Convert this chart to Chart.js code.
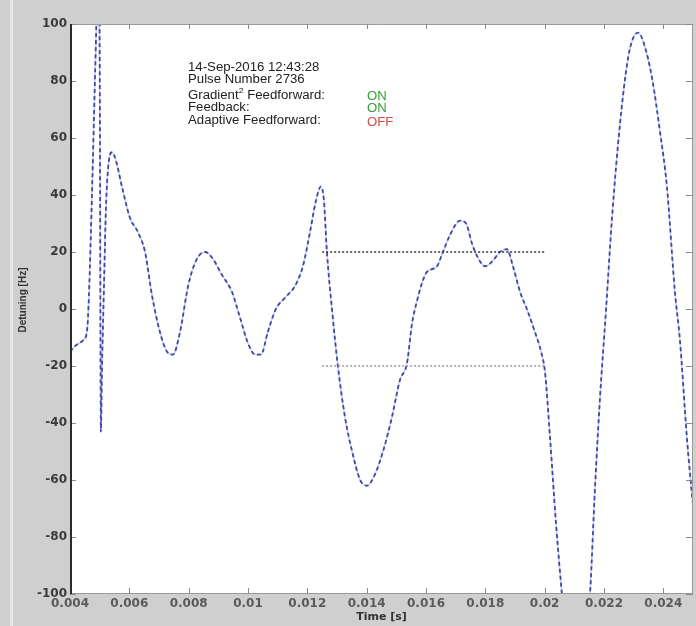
<!DOCTYPE html>
<html>
<head>
<meta charset="utf-8">
<script src="https://cdn.jsdelivr.net/npm/chart.js@4.4.1/dist/chart.umd.min.js"></script>
<style>
html,body{margin:0;padding:0;background:#cfcfcf;}
canvas{display:block;}
</style>
</head>
<body>
<canvas id="c" width="696" height="626"></canvas>
<script>
// ---- data ----
const times = [0.00400,0.00417,0.00444,0.00457,0.00464,0.00474,0.00484,0.00493,0.00498,0.00501,0.00503,0.00504,0.00508,0.00515,0.00521,0.00531,0.00542,0.00555,0.00575,0.00602,0.00629,0.00653,0.00676,0.00703,0.00727,0.00747,0.00771,0.00798,0.00825,0.00855,0.00879,0.00912,0.00946,0.00973,0.01000,0.01024,0.01044,0.01067,0.01094,0.01125,0.01158,0.01185,0.01209,0.01229,0.01246,0.01256,0.01266,0.01283,0.01303,0.01327,0.01351,0.01378,0.01401,0.01428,0.01455,0.01485,0.01512,0.01536,0.01553,0.01570,0.01586,0.01603,0.01637,0.01657,0.01681,0.01715,0.01735,0.01755,0.01775,0.01799,0.01826,0.01849,0.01873,0.01893,0.01917,0.01940,0.01967,0.01988,0.02001,0.02018,0.02038,0.02058,0.02079,0.02106,0.02133,0.02153,0.02170,0.02186,0.02207,0.02227,0.02254,0.02281,0.02298,0.02315,0.02335,0.02362,0.02389,0.02412,0.02439,0.02456,0.02480,0.02500];
const detuning = [-15,-13,-11,-8,5,40,80,115,125,60,-20,-43,-20,10,35,52,55,52,43,32,27,20,5,-8,-15,-16,-8,8,17,20,18,12,6,-3,-12,-16,-16,-8,0,4,8,15,27,38,43,38,20,0,-20,-38,-50,-60,-62,-58,-50,-38,-25,-19,-5,3,9,13,15,20,26,31,30,23,18,15,17,20,21,15,6,0,-8,-15,-22,-45,-75,-100,-125,-140,-125,-100,-62,-32,0,32,65,88,95,97,93,81,62,43,6,-11,-46,-69];
const refTimes = [0.0125, 0.0200];
const refUpper = [20, 20];
const refLower = [-20, -20];
const xTickValues = [0.004,0.006,0.008,0.010,0.012,0.014,0.016,0.018,0.020,0.022,0.024];
const xTickLabels = ['0.004','0.006','0.008','0.01','0.012','0.014','0.016','0.018','0.02','0.022','0.024'];
const yTickValues = [-100,-80,-60,-40,-20,0,20,40,60,80,100];
const yTickLabels = ['-100','-80','-60','-40','-20','0','20','40','60','80','100'];
const infoLines = ['14-Sep-2016 12:43:28','Pulse Number 2736'];
const statusNames = ['Feedback:','Adaptive Feedforward:'];
const statusValues = ['ON','ON','OFF'];
const statusColors = ['#35a035','#35a035','#d84a4a'];

const pts = (xs, ys) => xs.map((x, i) => ({x: x, y: ys[i]}));

const frame = {
  id: 'frame',
  beforeDraw(chart) {
    const {ctx, chartArea: a} = chart;
    ctx.save();
    ctx.fillStyle = '#cfcfcf';
    ctx.fillRect(0, 0, chart.width, chart.height);
    ctx.fillStyle = '#e6e6e6';
    ctx.fillRect(10, 0, 3, chart.height);
    ctx.fillStyle = '#ffffff';
    ctx.fillRect(a.left, a.top, a.right - a.left, a.bottom - a.top);
    ctx.restore();
  },
  afterDraw(chart) {
    const {ctx, chartArea: a, scales} = chart;
    const xs = scales.x, ys = scales.y;
    ctx.save();
    // box
    ctx.strokeStyle = '#9a9a9a';
    ctx.lineWidth = 1;
    ctx.beginPath();
    ctx.moveTo(a.left, a.top + 0.5); ctx.lineTo(a.right, a.top + 0.5);
    ctx.moveTo(a.right - 0.5, a.top); ctx.lineTo(a.right - 0.5, a.bottom);
    ctx.moveTo(a.left, a.bottom - 0.5); ctx.lineTo(a.right, a.bottom - 0.5);
    ctx.stroke();
    // inward ticks
    ctx.strokeStyle = '#888';
    ctx.beginPath();
    yTickValues.forEach(v => {
      const y = Math.round(ys.getPixelForValue(v)) + 0.5;
      ctx.moveTo(a.left, y); ctx.lineTo(a.left + 6, y);
      ctx.moveTo(a.right, y); ctx.lineTo(a.right - 7, y);
    });
    xTickValues.forEach(v => {
      const x = Math.round(xs.getPixelForValue(v)) + 0.5;
      ctx.moveTo(x, a.bottom); ctx.lineTo(x, a.bottom - 6);
      ctx.moveTo(x, a.top); ctx.lineTo(x, a.top + 5);
    });
    ctx.stroke();
    // left axis line
    ctx.strokeStyle = '#2a2a2a';
    ctx.lineWidth = 2;
    ctx.beginPath();
    ctx.moveTo(a.left + 1, a.top); ctx.lineTo(a.left + 1, a.bottom);
    ctx.stroke();
    // axis titles
    ctx.fillStyle = '#333';
    ctx.textAlign = 'center';
    ctx.textBaseline = 'middle';
    ctx.font = 'bold 10px "Liberation Sans", Arial, sans-serif';
    ctx.save();
    ctx.translate(23, 300);
    ctx.rotate(-Math.PI / 2);
    ctx.fillText('Detuning [Hz]', 0, 0);
    ctx.restore();
    ctx.font = 'bold 11px "DejaVu Sans", sans-serif';
    ctx.fillText('Time [s]', (a.left + a.right) / 2, 617);
    // info text (slightly wide lettering)
    ctx.save();
    ctx.translate(188, 0);
    ctx.scale(1.1, 1);
    ctx.textAlign = 'left';
    ctx.fillStyle = '#222';
    ctx.font = '12px "Liberation Sans", Arial, sans-serif';
    ctx.fillText(infoLines[0], 0, 68);
    ctx.fillText(infoLines[1], 0, 80);
    let x = 0;
    ctx.fillText('Gradient', x, 96);
    x += ctx.measureText('Gradient').width;
    ctx.font = '8px "Liberation Sans", Arial, sans-serif';
    ctx.fillText('2', x, 91);
    x += ctx.measureText('2').width;
    ctx.font = '12px "Liberation Sans", Arial, sans-serif';
    ctx.fillText(' Feedforward:', x, 96);
    ctx.fillText(statusNames[0], 0, 108);
    ctx.fillText(statusNames[1], 0, 121);
    const sy = [97, 109, 123];
    statusValues.forEach((s, i) => {
      ctx.fillStyle = statusColors[i];
      ctx.fillText(s, (367 - 188) / 1.1, sy[i]);
    });
    ctx.restore();
    ctx.restore();
  }
};

const tickFont = {family: '"DejaVu Sans", sans-serif', size: 12, weight: 'bold'};

new Chart(document.getElementById('c'), {
  type: 'line',
  data: {
    datasets: [
      {data: pts(refTimes, refUpper), order: -1, borderColor: '#333', borderWidth: 1.5, borderDash: [2, 2], pointRadius: 0, fill: false},
      {data: pts(refTimes, refLower), order: -1, borderColor: '#999', borderWidth: 1.5, borderDash: [2, 2], pointRadius: 0, fill: false},
      {data: pts(times, detuning), order: 0, borderColor: '#4146a3', borderWidth: 1.8, borderDash: [4, 3], pointRadius: 0, cubicInterpolationMode: 'monotone', fill: false},
      {data: pts(times, detuning), order: 1, borderColor: '#c8cff0', borderWidth: 1.5, pointRadius: 0, cubicInterpolationMode: 'monotone', fill: false}
    ]
  },
  options: {
    responsive: false,
    animation: false,
    devicePixelRatio: 1,
    layout: {padding: {top: 24, right: 3, left: 0, bottom: 0}},
    plugins: {legend: {display: false}, tooltip: {enabled: false}},
    scales: {
      x: {
        type: 'linear', min: 0.004, max: 0.025,
        afterBuildTicks: s => { s.ticks = xTickValues.map(v => ({value: v})); },
        afterFit: s => { s.height = 32; },
        grid: {display: false, drawTicks: false},
        border: {display: false},
        ticks: {
          padding: 3, color: '#5a5a5a', maxRotation: 0, autoSkip: false,
          font: tickFont,
          callback: (v, i) => xTickLabels[i]
        }
      },
      y: {
        type: 'linear', min: -100, max: 100,
        afterBuildTicks: s => { s.ticks = yTickValues.map(v => ({value: v})); },
        afterFit: s => { s.width = 70; },
        grid: {display: false, drawTicks: false},
        border: {display: false},
        ticks: {
          padding: 3, color: '#3a3a3a', autoSkip: false,
          font: tickFont,
          callback: (v, i) => yTickLabels[i]
        }
      }
    }
  },
  plugins: [frame]
});
</script>
</body>
</html>
